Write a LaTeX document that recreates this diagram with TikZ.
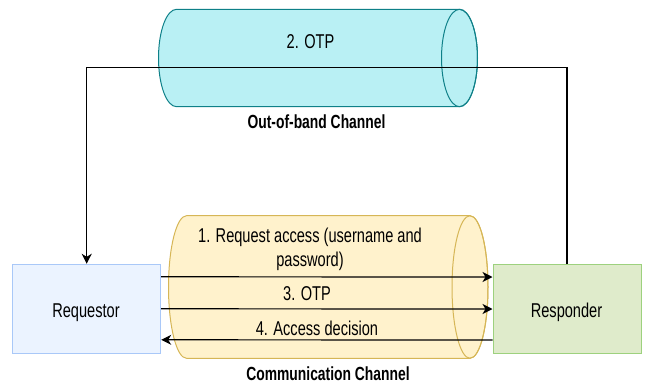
\documentclass[tikz,border=0pt]{standalone}
\usepackage{graphicx}
\usepackage{fontspec}
\setmainfont{Liberation Sans}
\usetikzlibrary{arrows.meta}
\definecolor{topfill}{HTML}{B9F0F4}
\definecolor{topdraw}{HTML}{0E8088}
\definecolor{botfill}{HTML}{FFF2CC}
\definecolor{botdraw}{HTML}{D6B656}
\definecolor{reqfill}{HTML}{EBF3FF}
\definecolor{reqdraw}{HTML}{A9C8F8}
\definecolor{respfill}{HTML}{DFEBCB}
\definecolor{respdraw}{HTML}{9DD17E}
\newcommand\lbl[1]{\scalebox{0.73}[1]{#1}}
\tikzset{
  box/.style={draw, line width=1pt, minimum width=148pt, minimum height=89pt, inner sep=0pt},
  txt/.style={anchor=base, inner sep=0pt, font=\fontsize{20pt}{24pt}\selectfont},
  btxt/.style={anchor=base, inner sep=0pt, font=\fontsize{19pt}{23pt}\selectfont\bfseries},
  arr/.style={draw=black, line width=1.2pt, -{Stealth[length=10pt,width=10pt,inset=3pt]}},
  cyl/.style={line width=1pt}
}
\begin{document}
\begin{tikzpicture}[x=1pt,y=-1pt]
\useasboundingbox (0,0) rectangle (646,383);
% out-of-band cylinder
\path[cyl, fill=topfill, draw=topdraw] (176.5,9.3) arc[start angle=90, end angle=270, x radius=18pt, y radius=48.7pt] -- (459.5,106.7) arc[start angle=-90, end angle=90, x radius=18pt, y radius=48.7pt] -- cycle;
\draw[cyl, draw=topdraw] (459.5,58) ellipse [x radius=18pt, y radius=48.7pt];
% communication cylinder
\path[cyl, fill=botfill, draw=botdraw] (186.5,215.7) arc[start angle=90, end angle=270, x radius=18pt, y radius=71.3pt] -- (470,358.3) arc[start angle=-90, end angle=90, x radius=18pt, y radius=71.3pt] -- cycle;
\draw[cyl, draw=botdraw] (470,287) ellipse [x radius=18pt, y radius=71.3pt];
% boxes
\node[box, fill=reqfill, draw=reqdraw] (req) at (86.7,308.8) {};
\node[box, fill=respfill, draw=respdraw] (resp) at (567,309) {};
\node[txt] (reqt) at (86,317) {\lbl{Requestor}};
\node[txt] (respt) at (566.5,317) {\lbl{Responder}};
% labels
\node[txt] (otp2) at (310.5,48) {\lbl{2. OTP}};
\node[btxt] (oob) at (316.5,128) {\lbl{Out-of-band Channel}};
\node[btxt] (cc) at (328,380) {\lbl{Communication Channel}};
\node[txt] (m1) at (310,242.7) {\lbl{\begin{tabular}[t]{@{}c@{}}1. Request access (username and\\password)\end{tabular}}};
\node[txt] (m3) at (307,300) {\lbl{3. OTP}};
\node[txt] (m4) at (317,335) {\lbl{4. Access decision}};
% connectors
\coordinate (turn) at (567,67.5);
\draw[arr] (resp.north) -- (resp.north |- turn) -| (req.north);
\draw[arr] ([yshift=32pt]req.east) -- ([yshift=32pt]resp.west);
\draw[arr] (req.east) -- (resp.west);
\draw[arr] ([yshift=-31pt]resp.west) -- ([yshift=-31pt]req.east);
\end{tikzpicture}
\end{document}
